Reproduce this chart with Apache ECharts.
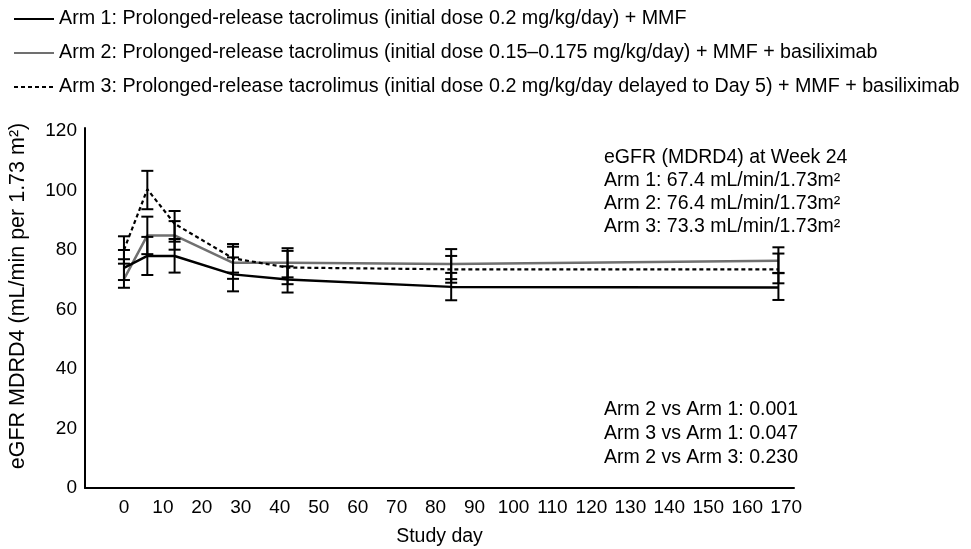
<!DOCTYPE html>
<html>
<head>
<meta charset="utf-8">
<script src="https://cdn.jsdelivr.net/npm/echarts@6/dist/echarts.min.js"></script>
<style>html,body{margin:0;padding:0;background:#fff}#c{width:971px;height:549px}</style>
</head>
<body>
<div id="c"></div>
<script>
var days = [0, 6, 13, 28, 42, 84, 168];
var xTicks = [0,10,20,30,40,50,60,70,80,90,100,110,120,130,140,150,160,170];
var yTicks = [0,20,40,60,80,100,120];
var arm1 = [74.0, 78.0, 78.0, 71.8, 70.1, 67.6, 67.4];
var arm2 = [70.2, 84.9, 84.9, 75.7, 75.7, 75.3, 76.4];
var arm3 = [80.0, 100.4, 88.8, 77.2, 74.1, 73.5, 73.5];
var arm1Low  = [67.3, 71.6, 72.4, 66.1, 65.7, 63.1, 63.2];
var arm1High = [80.0, 84.4, 83.7, 77.5, 74.5, 72.3, 72.2];
var arm2Low  = [69.9, 78.6, 80.1, 70.3, 70.8, 70.2, 72.3];
var arm2High = [76.9, 91.2, 89.7, 81.1, 80.6, 80.3, 80.9];
var arm3Low  = [75.4, 93.7, 82.8, 72.4, 68.5, 69.0, 68.8];
var arm3High = [84.6, 106.6, 93.1, 82.0, 79.7, 78.0, 78.8];
var names = [
  'Arm 1: Prolonged-release tacrolimus (initial dose 0.2 mg/kg/day) + MMF',
  'Arm 2: Prolonged-release tacrolimus (initial dose 0.15\u20130.175 mg/kg/day) + MMF + basiliximab',
  'Arm 3: Prolonged-release tacrolimus (initial dose 0.2 mg/kg/day delayed to Day 5) + MMF + basiliximab'
];
var noteTop = ['eGFR (MDRD4) at Week 24', 'Arm 1: 67.4 mL/min/1.73m\u00b2', 'Arm 2: 76.4 mL/min/1.73m\u00b2', 'Arm 3: 73.3 mL/min/1.73m\u00b2'];
var noteBottom = ['Arm 2 vs Arm 1: 0.001', 'Arm 3 vs Arm 1: 0.047', 'Arm 2 vs Arm 3: 0.230'];

var FONT = '"Liberation Sans", Arial, sans-serif';
function pairs(xs, ys){ return xs.map(function(x,i){ return [x, ys[i]]; }); }
function errData(lo, hi){ return days.map(function(d,i){ return [d, lo[i], hi[i]]; }); }
function errRender(params, api){
  var x = api.value(0);
  var lo = api.coord([x, api.value(1)]);
  var hi = api.coord([x, api.value(2)]);
  var hw = 6;
  var st = {stroke:'#000', lineWidth:2};
  return {type:'group', children:[
    {type:'line', shape:{x1:lo[0], y1:lo[1], x2:hi[0], y2:hi[1]}, style:st},
    {type:'line', shape:{x1:lo[0]-hw, y1:lo[1], x2:lo[0]+hw, y2:lo[1]}, style:st},
    {type:'line', shape:{x1:hi[0]-hw, y1:hi[1], x2:hi[0]+hw, y2:hi[1]}, style:st}
  ]};
}
var chart = echarts.init(document.getElementById('c'), null, {renderer:'canvas'});
var graphics = [];
noteTop.forEach(function(t,i){
  graphics.push({type:'text', left:604, top:148 + i*23, style:{text:t, font:'19.5px ' + FONT, fill:'#000'}});
});
noteBottom.forEach(function(t,i){
  graphics.push({type:'text', left:604, top:400 + i*24, style:{text:t, font:'19.5px ' + FONT, fill:'#000'}});
});
chart.setOption({
  animation:false,
  backgroundColor:'#fff',
  textStyle:{fontFamily:FONT},
  legend:{
    orient:'vertical', left:8, top:4, itemGap:14, itemWidth:40, itemHeight:14,
    itemStyle:{opacity:0},
    textStyle:{fontSize:19.7, color:'#000', fontFamily:FONT},
    data:names
  },
  grid:{left:85, right:177, top:128, bottom:61, containLabel:false, outerBoundsMode:'none'},
  xAxis:{
    type:'value', min:-10, max:172, interval:10,
    axisLine:{show:true, onZero:false, lineStyle:{color:'#000', width:2}},
    axisTick:{show:false}, splitLine:{show:false},
    axisLabel:{fontSize:19, color:'#000', margin:10, showMaxLabel:true,
      formatter:function(v){ return xTicks.indexOf(v) >= 0 ? String(v) : ''; }},
    name:'Study day', nameLocation:'middle', nameGap:39,
    nameTextStyle:{fontSize:19.5, color:'#000'}
  },
  yAxis:{
    type:'value', min:0, max:121, interval:20,
    axisLine:{show:true, onZero:false, lineStyle:{color:'#000', width:2}},
    axisTick:{show:false}, splitLine:{show:false},
    axisLabel:{fontSize:19, color:'#000', margin:8,
      formatter:function(v){ return yTicks.indexOf(v) >= 0 ? String(v) : ''; }},
    name:'eGFR MDRD4 (mL/min per 1.73 m\u00b2)', nameLocation:'middle', nameGap:56,
    nameTextStyle:{fontSize:21.5, color:'#000', padding:[0,0,0,24]}
  },
  series:[
    {name:names[0], type:'line', data:pairs(days, arm1), symbol:'none', z:3,
      lineStyle:{color:'#000', width:2.5}, itemStyle:{color:'#000'}},
    {name:names[1], type:'line', data:pairs(days, arm2), symbol:'none', z:2,
      lineStyle:{color:'#707070', width:2.5}, itemStyle:{color:'#707070'}},
    {name:names[2], type:'line', data:pairs(days, arm3), symbol:'none', z:2,
      lineStyle:{color:'#000', width:2.2, type:[4,3]}, itemStyle:{color:'#000'}},
    {type:'custom', renderItem:errRender, data:errData(arm1Low, arm1High), z:4, silent:true},
    {type:'custom', renderItem:errRender, data:errData(arm2Low, arm2High), z:4, silent:true},
    {type:'custom', renderItem:errRender, data:errData(arm3Low, arm3High), z:4, silent:true}
  ],
  graphic:graphics
});
</script>
</body>
</html>
